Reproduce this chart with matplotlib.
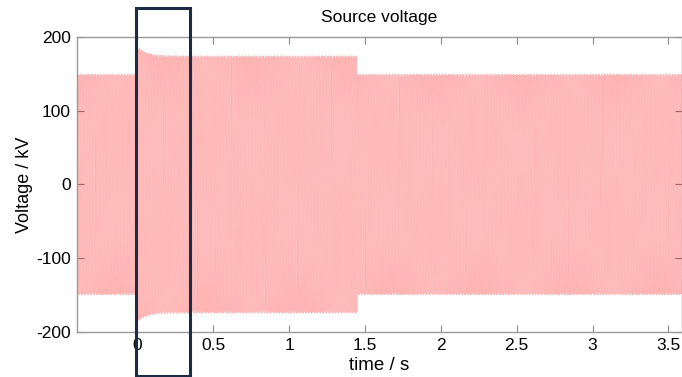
import matplotlib
matplotlib.use("Agg")
import matplotlib.pyplot as plt
import matplotlib.patches as patches
import numpy as np

plt.rcParams['font.family'] = ['Liberation Sans', 'DejaVu Sans']
plt.rcParams['axes.unicode_minus'] = False

# signal description
f_grid = 50.0                       # Hz
t_start, t_end = -0.40, 3.60        # s
seg_times = [-0.40, 0.0, 1.45]      # start of each segment
seg_amp = [150.0, 175.0, 150.0]     # kV peak in each segment
transient_peak = 12.0               # extra kV right after switching at t=0
transient_tau = 0.06                # s
phase_shift_deg = [0.0, -120.0, 120.0]
samples_per_cycle = 16.03           # coarse record, gives the striped look

xticks = [0, 0.5, 1, 1.5, 2, 2.5, 3, 3.5]
yticks = [-200, -100, 0, 100, 200]

t = np.arange(t_start, t_end, 1 / f_grid / samples_per_cycle)
amp = np.full_like(t, seg_amp[0])
for ts, a in zip(seg_times, seg_amp):
    amp[t >= ts] = a
after = (t >= 0) & (t < seg_times[2])
amp[after] += transient_peak * np.exp(-t[after] / transient_tau)

fig = plt.figure(figsize=(6.82, 3.77), dpi=100)
ax = fig.add_axes([76.5 / 682, 1 - 332 / 377, 1 - 76.5 / 682, 295 / 377])

for ph in phase_shift_deg:
    v = amp * np.sin(2 * np.pi * f_grid * t + np.deg2rad(ph))
    ax.plot(t, v, color='#ff0000', lw=0.35, alpha=0.3)

ax.set_xlim(-0.402, 3.59)
ax.set_ylim(-200, 200)
ax.set_xticks(xticks)
ax.set_xticklabels([f"{x:g}" for x in xticks])
ax.set_yticks(yticks)
ax.tick_params(direction='in', length=5, color='#888888', labelsize=12.5,
               top=True, right=True, pad=4)
for s in ax.spines.values():
    s.set_color('#999999')
    s.set_linewidth(1.0)

ax.set_title("Source voltage", fontsize=12.5, pad=11)
ax.set_xlabel("time / s", fontsize=13.5, labelpad=3)
ax.set_ylabel("Voltage / kV", fontsize=13, labelpad=2)

# highlight box around the switching instant
rect = patches.Rectangle((136 / 682, 1 - 376 / 377), 54 / 682, 368 / 377,
                         transform=fig.transFigure, fill=False,
                         edgecolor='#1d2b45', lw=2.2, clip_on=False)
fig.patches.append(rect)

fig.savefig("out.png", dpi=100)
